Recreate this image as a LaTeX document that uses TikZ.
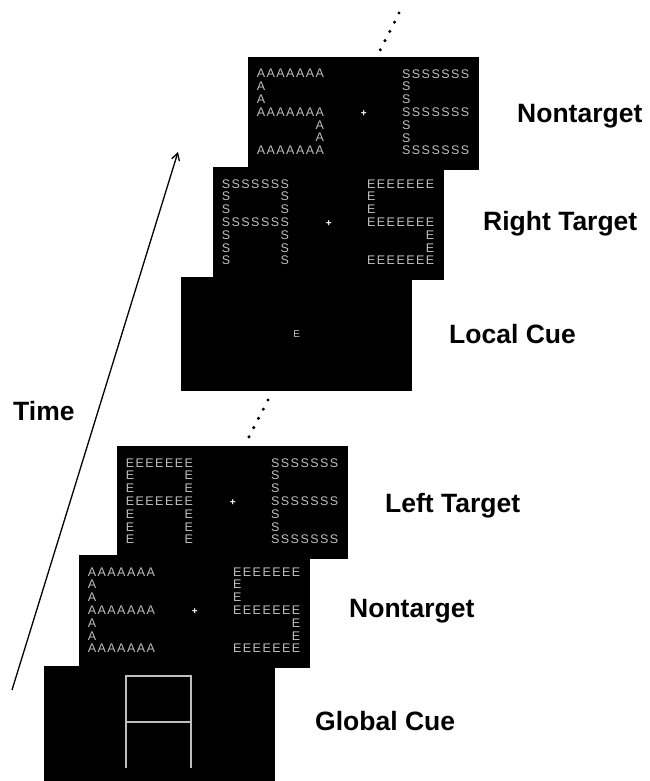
\documentclass[tikz,border=0pt]{standalone}
\usepackage{fontspec}
\setmainfont{Liberation Sans}
\usetikzlibrary{arrows.meta}
\definecolor{lettergray}{RGB}{190,190,190}
\tikzset{
  panel/.style={fill=black, draw=none, inner sep=0pt, anchor=north west},
  lt/.style={text=lettergray, font=\fontsize{12.5}{12.5}\selectfont, inner sep=0pt, anchor=center},
  lbl/.style={font=\fontsize{26.5}{26.5}\selectfont\bfseries, anchor=base west, inner sep=0pt},
  tdot/.style={circle, fill=black, draw=none, inner sep=0pt, minimum size=3.4pt},
  fix/.style={text=white, font=\fontsize{10}{10}\selectfont\bfseries, inner sep=0pt},
  bigA/.style={draw=lettergray, line width=1.7pt},
  timearrow/.style={line width=1.3pt, -{Straight Barb[length=7pt,width=8pt]}}
}
% id x y row char
\newcommand\hrowL[5]{\foreach \cc in {0,...,6}{\node[lt] (#1-#4-\cc) at ({#2+\cc*9.8},{#3+#4*12.8}) {#5};}}
% id x y col row char
\newcommand\hcellL[6]{\node[lt] (#1-#5-#4) at ({#2+#4*9.8},{#3+#5*12.8}) {#6};}
% global A
\newcommand\hgA[4]{\hrowL{#1}{#2}{#3}{0}{#4}\hrowL{#1}{#2}{#3}{3}{#4}%
  \foreach \rr in {1,2,4,5,6}{\hcellL{#1}{#2}{#3}{0}{\rr}{#4}\hcellL{#1}{#2}{#3}{6}{\rr}{#4}}}
% global S
\newcommand\hgS[4]{\hrowL{#1}{#2}{#3}{0}{#4}\hrowL{#1}{#2}{#3}{3}{#4}\hrowL{#1}{#2}{#3}{6}{#4}%
  \foreach \rr in {1,2}{\hcellL{#1}{#2}{#3}{0}{\rr}{#4}}%
  \foreach \rr in {4,5}{\hcellL{#1}{#2}{#3}{6}{\rr}{#4}}}
% global E
\newcommand\hgE[4]{\hrowL{#1}{#2}{#3}{0}{#4}\hrowL{#1}{#2}{#3}{3}{#4}\hrowL{#1}{#2}{#3}{6}{#4}%
  \foreach \rr in {1,2,4,5}{\hcellL{#1}{#2}{#3}{0}{\rr}{#4}}}

\begin{document}
\begin{tikzpicture}[x=1pt,y=-1pt]
\useasboundingbox (0,0) rectangle (649,781);

% dots at top
\node[tdot] (ta) at (399,13) {};
\node[tdot] (tb) at (394.5,22.2) {};
\node[tdot] (tc) at (389.8,31.4) {};
\node[tdot] (td) at (385,40.6) {};
\node[tdot] (te) at (380.3,49.8) {};

% panel 1 : Nontarget
\node[panel, minimum width=231pt, minimum height=113pt] (p1) at (248,57) {};
\hgS{p1l}{261}{73.7}{A}
\hgE{p1r}{406.3}{73.7}{S}
\node[fix] (f1) at (p1.center) {+};

% panel 2 : Right Target
\node[panel, minimum width=231pt, minimum height=113pt] (p2) at (213,167) {};
\hgA{p2l}{226}{183.7}{S}
\hgS{p2r}{371.3}{183.7}{E}
\node[fix] (f2) at (p2.center) {+};

% panel 3 : Local Cue
\node[panel, minimum width=231pt, minimum height=114pt] (p3) at (181,277) {};
\node[lt, font=\fontsize{10}{10}\selectfont] (cueE) at (p3.center) {E};

% middle dots
\node[tdot] (ma) at (268,400) {};
\node[tdot] (mb) at (263.3,409.2) {};
\node[tdot] (mc) at (258.5,418.4) {};
\node[tdot] (md) at (253.8,427.6) {};
\node[tdot] (me) at (249,436.8) {};

% panel 4 : Left Target
\node[panel, minimum width=231pt, minimum height=113pt] (p4) at (117,446) {};
\hgA{p4l}{130}{462.7}{E}
\hgE{p4r}{275.3}{462.7}{S}
\node[fix] (f4) at (p4.center) {+};

% panel 5 : Nontarget
\node[panel, minimum width=231pt, minimum height=113pt] (p5) at (79,555) {};
\hgE{p5l}{92}{571.7}{A}
\hgS{p5r}{237.3}{571.7}{E}
\node[fix] (f5) at (p5.center) {+};

% panel 6 : Global Cue
\node[panel, minimum width=231pt, minimum height=115pt] (p6) at (44,666) {};
\coordinate (gA1) at (126,768);
\coordinate (gA2) at (126,676);
\coordinate (gA3) at (191,676);
\coordinate (gA4) at (191,768);
\coordinate (gA5) at (126,722);
\coordinate (gA6) at (191,722);
\draw[bigA] (gA1) -- (gA2) -- (gA3) -- (gA4);
\draw[bigA] (gA5) -- (gA6);

% labels
\node[lbl] (l1) at (517,122) {Nontarget};
\node[lbl] (l2) at (483,230) {Right Target};
\node[lbl] (l3) at (449,343) {Local Cue};
\node[lbl] (l4) at (385,512) {Left Target};
\node[lbl] (l5) at (349,617) {Nontarget};
\node[lbl] (l6) at (315,730) {Global Cue};
\node[lbl] (ltime) at (13,420) {Time};

% time arrow
\coordinate (tstart) at (12,690);
\coordinate (tend) at (178,152);
\draw[timearrow] (tstart) -- (tend);
\end{tikzpicture}
\end{document}
